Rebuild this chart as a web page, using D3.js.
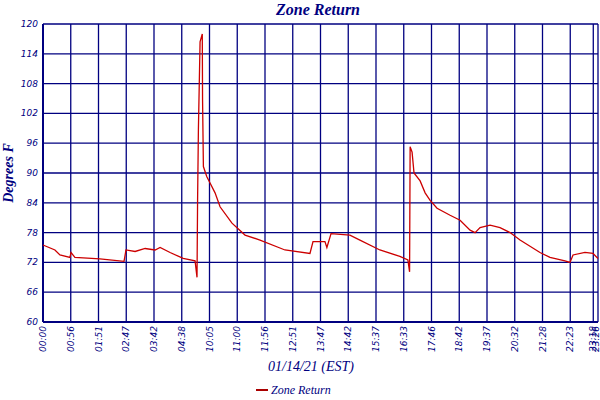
<!DOCTYPE html>
<html><head><meta charset="UTF-8">
<script src="https://cdn.jsdelivr.net/npm/d3@7"></script>
<style>body{margin:0;background:#fff}</style></head>
<body><div id="chart"></div>
<script>
// sample index (0..200) and temperature readings
const sampleIdx = [0,4.3,6.1,9.7,10.1,11.5,20.5,29.2,29.9,33.2,36.8,40.4,42.2,45.8,50.5,54.8,55.5,55.7,56,56.6,57.4,57.5,57.8,59,60.2,62,63.8,68.1,72.8,78.2,87.2,96.2,97.3,101.6,102.3,103.8,110.6,114.2,121.4,128.6,131.5,132.1,132.3,133,133.7,135.9,137.7,139.5,142,146.7,150.3,153.9,155.7,157.5,161.1,164.7,168.3,171.9,179.1,182.7,188.1,189.9,191,195.3,198.2,200];
const temps = [75.5,74.5,73.5,73,74,73,72.7,72.2,74.5,74.2,74.8,74.5,75,74,72.8,72.3,69,84,98.7,116.4,118,104.7,91.3,89.3,88,86,83.2,79.9,77.5,76.5,74.5,73.8,76.2,76.2,75,77.8,77.5,76.5,74.5,73.2,72.5,70.1,95.3,94.2,90,88.4,86,84.5,82.9,81.5,80.5,78.5,78,79,79.5,79,78,76.5,74,73,72.3,72,73.5,74,73.8,72.8];
const tickIdx = [0,10,20,30,40,50,60,70,80,90,100,110,120,130,140,150,160,170,180,190,198.3,200];
const tickLabels = ["00:00","00:56","01:51","02:47","03:42","04:38","10:05","11:00","11:56","12:51","13:47","14:42","15:37","16:33","17:46","18:42","19:37","20:32","21:28","22:23","23:18","23:26"];
const yTicks = [60,66,72,78,84,90,96,102,108,114,120];

const W=600,H=400,m={l:43,r:2,t:24,b:78};
const navy="#000080";
const svg=d3.select("#chart").append("svg").attr("width",W).attr("height",H);
const x=d3.scaleLinear().domain([0,200]).range([m.l,W-m.r]);
const y=d3.scaleLinear().domain([60,120]).range([H-m.b,m.t]);

const g=svg.append("g").attr("stroke",navy).attr("stroke-width",1.3);
g.selectAll(".h").data(yTicks).join("line").attr("x1",m.l).attr("x2",W-m.r).attr("y1",d=>y(d)).attr("y2",d=>y(d));
g.selectAll(".v").data(tickIdx).join("line").attr("x1",d=>x(d)).attr("x2",d=>x(d)).attr("y1",m.t).attr("y2",H-m.b);
svg.append("line").attr("x1",m.l).attr("x2",m.l).attr("y1",m.t).attr("y2",H-m.b).attr("stroke",navy).attr("stroke-width",2);
svg.append("line").attr("x1",m.l).attr("x2",W-m.r).attr("y1",H-m.b).attr("y2",H-m.b).attr("stroke",navy).attr("stroke-width",2);

svg.selectAll(".yt").data(yTicks).join("text").attr("x",m.l-5).attr("y",d=>y(d)+3)
  .attr("text-anchor","end").attr("font-family","DejaVu Sans").attr("font-style","italic")
  .attr("font-size",9).attr("fill",navy).text(d=>d);
svg.selectAll(".xt").data(tickIdx).join("text")
  .attr("transform",d=>`translate(${Math.min(x(d)+3,W-1)},${H-m.b+4}) rotate(-90)`)
  .attr("text-anchor","end").attr("font-family","DejaVu Sans").attr("font-style","italic")
  .attr("font-size",9).attr("fill",navy).text((d,i)=>tickLabels[i]);

const line=d3.line().x((d,i)=>x(sampleIdx[i])).y(d=>y(d));
svg.append("path").attr("d",line(temps)).attr("fill","none").attr("stroke","#cc0000").attr("stroke-width",1.3);

svg.append("text").attr("x",318).attr("y",15).attr("text-anchor","middle").attr("font-family","Liberation Serif")
  .attr("font-style","italic").attr("font-weight","bold").attr("font-size",16).attr("fill",navy).text("Zone Return");
svg.append("text").attr("transform",`translate(13,${(m.t+H-m.b)/2}) rotate(-90)`).attr("text-anchor","middle")
  .attr("font-family","Liberation Serif").attr("font-style","italic").attr("font-weight","bold").attr("font-size",14)
  .attr("fill",navy).text("Degrees F");
svg.append("text").attr("x",311).attr("y",371).attr("text-anchor","middle").attr("font-family","Liberation Serif")
  .attr("font-style","italic").attr("font-size",14).attr("fill",navy).text("01/14/21 (EST)");
svg.append("line").attr("x1",256).attr("x2",268).attr("y1",390).attr("y2",390).attr("stroke","#aa0000").attr("stroke-width",2);
svg.append("text").attr("x",271).attr("y",394).attr("font-family","Liberation Serif").attr("font-style","italic")
  .attr("font-size",12).attr("fill",navy).text("Zone Return");
</script></body></html>
